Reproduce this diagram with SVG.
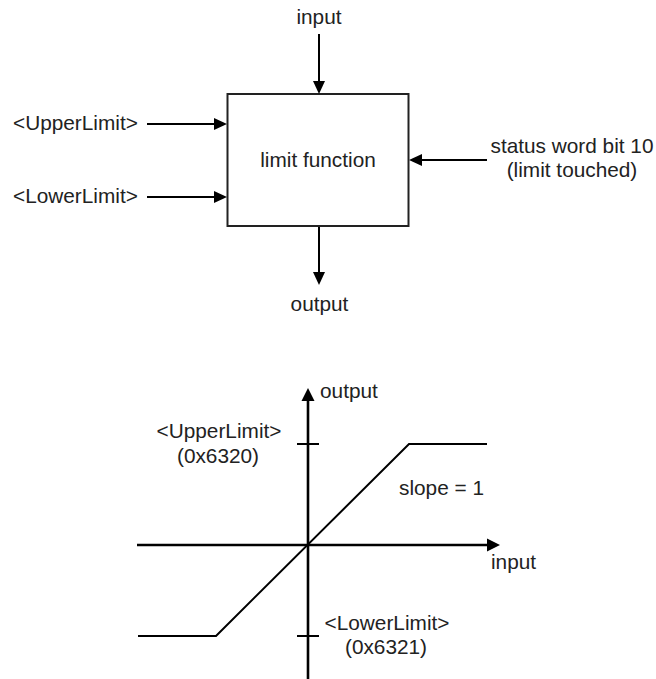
<svg xmlns="http://www.w3.org/2000/svg" width="656" height="679" viewBox="0 0 656 679">
<style>
text{font-family:"Liberation Sans",Arial,sans-serif;font-size:20.8px;fill:#222}
.m{text-anchor:middle}
.ln{stroke:#000;stroke-width:2;fill:none}
.ax{stroke:#000;stroke-width:2.6;fill:none}
</style>
<defs>
<marker id="ah" markerUnits="userSpaceOnUse" markerWidth="14" markerHeight="12" refX="7" refY="6" orient="auto">
<path d="M0,0 L13,6 L0,12 z" fill="#000"/>
</marker>
<marker id="ax" markerUnits="userSpaceOnUse" markerWidth="14" markerHeight="14" refX="7" refY="7" orient="auto">
<path d="M0,0.5 L13,7 L0,13.5 z" fill="#000"/>
</marker>
</defs>
<rect width="656" height="679" fill="#fff"/>
<g id="limit-function">
<rect x="227.5" y="94" width="181" height="132" fill="#fff" stroke="#222" stroke-width="2"/>
<text class="m" x="318" y="167">limit function</text>
</g>
<g id="input-label"><text class="m" x="319" y="24">input</text></g>
<g id="upper-label"><text x="13" y="130">&lt;UpperLimit&gt;</text></g>
<g id="lower-label"><text x="13" y="203">&lt;LowerLimit&gt;</text></g>
<g id="status-label">
<text class="m" x="572" y="153">status word bit 10</text>
<text class="m" x="572" y="177">(limit touched)</text>
</g>
<g id="output-label"><text class="m" x="319.5" y="311">output</text></g>
<g id="connectors">
<line class="ln" x1="319" y1="34" x2="319" y2="88" marker-end="url(#ah)"/>
<line class="ln" x1="147" y1="124" x2="221" y2="124" marker-end="url(#ah)"/>
<line class="ln" x1="147" y1="197" x2="221" y2="197" marker-end="url(#ah)"/>
<line class="ln" x1="487" y1="160" x2="415" y2="160" marker-end="url(#ah)"/>
<line class="ln" x1="319" y1="227" x2="319" y2="279" marker-end="url(#ah)"/>
</g>
<g id="graph">
<line class="ax" x1="308" y1="679" x2="308" y2="394" marker-end="url(#ax)"/>
<line class="ax" x1="137" y1="545" x2="494" y2="545" marker-end="url(#ax)"/>
<line class="ln" x1="297" y1="444" x2="319" y2="444"/>
<line class="ln" x1="297" y1="636" x2="319" y2="636"/>
<polyline class="ln" stroke-width="1.8" points="138,636 216,636 409,444 487,444"/>
<text x="320" y="398">output</text>
<text x="491" y="569">input</text>
<text class="m" x="219" y="438">&lt;UpperLimit&gt;</text>
<text class="m" x="218" y="463">(0x6320)</text>
<text x="399" y="495">slope = 1</text>
<text class="m" x="387" y="630">&lt;LowerLimit&gt;</text>
<text class="m" x="386" y="654">(0x6321)</text>
</g>
</svg>
